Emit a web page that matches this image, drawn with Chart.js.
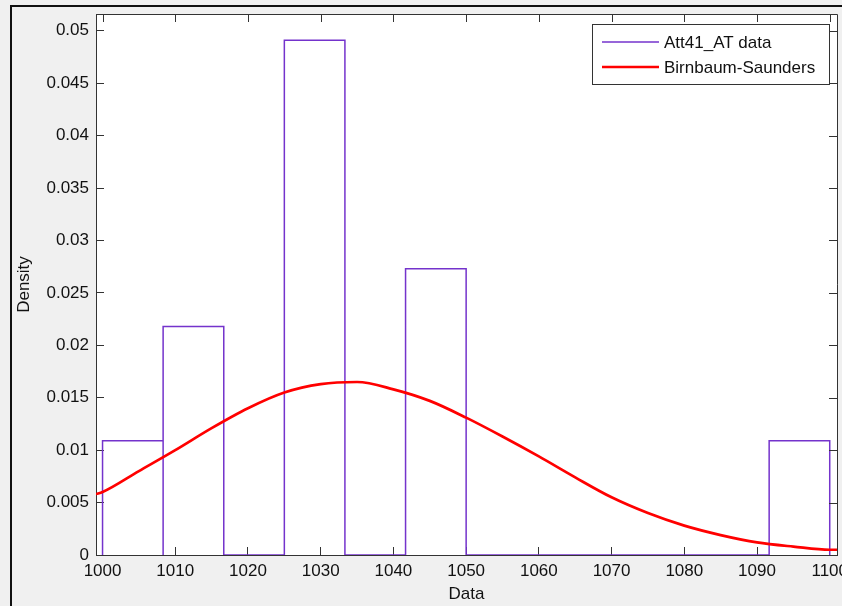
<!DOCTYPE html>
<html>
<head>
<meta charset="utf-8">
<title>Att41_AT histogram</title>
<script src="https://cdn.jsdelivr.net/npm/chart.js@4.4.1/dist/chart.umd.min.js"></script>
<style>
  html, body { margin: 0; padding: 0; background: #f0f0f0; }
  #wrap { position: relative; width: 842px; height: 606px; }
</style>
</head>
<body>
<div id="wrap"><canvas id="histChart" width="842" height="606"></canvas></div>
<script>
// histogram bins (density)
const binEdges = [1000, 1008.33, 1016.67, 1025, 1033.33, 1041.67, 1050,
  1058.33, 1066.67, 1075, 1083.33, 1091.67, 1100];
const binDensity = [0.0109, 0.0218, 0, 0.0491, 0, 0.0273, 0, 0, 0, 0, 0, 0.0109];

// fitted Birnbaum-Saunders pdf
const fitX = [999.1, 1000, 1005, 1010, 1015, 1020, 1025, 1030, 1035, 1040, 1045,
  1050, 1055, 1060, 1065, 1070, 1075, 1080, 1085, 1090, 1095, 1100, 1101];
const fitDensity = [0.0058, 0.0060, 0.0080, 0.0100, 0.0121, 0.0140, 0.0155, 0.0163,
  0.0165, 0.0158, 0.0147, 0.0131, 0.0113, 0.0094, 0.0074, 0.0055, 0.0040, 0.0028,
  0.0019, 0.0012, 0.0008, 0.0005, 0.0005];

const xTicks = [1000, 1010, 1020, 1030, 1040, 1050, 1060, 1070, 1080, 1090, 1100];
const xTickLabels = ["1000", "1010", "1020", "1030", "1040", "1050", "1060", "1070", "1080", "1090", "1100"];
const yTicks = [0, 0.005, 0.01, 0.015, 0.02, 0.025, 0.03, 0.035, 0.04, 0.045, 0.05];
const yTickLabels = ["0", "0.005", "0.01", "0.015", "0.02", "0.025", "0.03", "0.035", "0.04", "0.045", "0.05"];

const axisColor = "#333333";
const textColor = "#111111";
const fontFamily = '"Liberation Sans", Arial, sans-serif';
const tickFont = { family: fontFamily, size: 17 };
const TICK_LEN = 8;

// outline of every bar, bottom edges included
const histOutline = [];
binDensity.forEach((h, i) => {
  histOutline.push(
    { x: binEdges[i], y: 0 },
    { x: binEdges[i], y: h },
    { x: binEdges[i + 1], y: h },
    { x: binEdges[i + 1], y: 0 }
  );
});

const fitPoints = fitX.map((x, i) => ({ x: x, y: fitDensity[i] }));

// MATLAB style frame: grey figure, white axes, mirrored ticks, boxed legend
const matlabFrame = {
  id: "matlabFrame",
  beforeDraw(chart) {
    const { ctx, chartArea: a } = chart;
    ctx.save();
    ctx.fillStyle = "#f0f0f0";
    ctx.fillRect(0, 0, chart.width, chart.height);
    ctx.fillStyle = "#111111";
    ctx.fillRect(10, 5, chart.width - 10, 2);
    ctx.fillRect(10, 5, 2, chart.height - 5);
    ctx.fillStyle = "#ffffff";
    ctx.fillRect(a.left, a.top, a.right - a.left, a.bottom - a.top);
    ctx.restore();
  },
  afterDatasetsDraw(chart) {
    const { ctx, chartArea: a, scales } = chart;
    ctx.save();
    ctx.strokeStyle = axisColor;
    ctx.lineWidth = 1;
    ctx.beginPath();
    ctx.moveTo(a.left, a.top + 0.5);
    ctx.lineTo(a.right + 0.5, a.top + 0.5);
    ctx.lineTo(a.right + 0.5, a.bottom);
    xTicks.forEach((v) => {
      const px = Math.round(scales.x.getPixelForValue(v)) + 0.5;
      ctx.moveTo(px, a.top);
      ctx.lineTo(px, a.top + TICK_LEN);
    });
    yTicks.forEach((v) => {
      const py = Math.round(scales.y.getPixelForValue(v)) + 0.5;
      ctx.moveTo(a.right, py);
      ctx.lineTo(a.right - TICK_LEN, py);
    });
    ctx.stroke();
    ctx.restore();
  },
  afterDraw(chart) {
    const { ctx, chartArea: a } = chart;
    const items = chart.data.datasets;
    ctx.save();
    ctx.font = "17px " + fontFamily;
    const textW = Math.max(...items.map((d) => ctx.measureText(d.label).width));
    const lineW = 57;
    const boxW = Math.round(10 + lineW + 5 + textW + 14);
    const boxH = 60;
    const x0 = Math.round(a.right - 8 - boxW);
    const y0 = Math.round(a.top + 10);
    ctx.fillStyle = "#ffffff";
    ctx.fillRect(x0, y0, boxW, boxH);
    ctx.strokeStyle = axisColor;
    ctx.lineWidth = 1;
    ctx.strokeRect(x0 + 0.5, y0 + 0.5, boxW, boxH);
    items.forEach((d, i) => {
      const rowY = y0 + 18 + i * 25;
      ctx.strokeStyle = d.borderColor;
      ctx.lineWidth = d.borderWidth;
      ctx.beginPath();
      ctx.moveTo(x0 + 10, rowY);
      ctx.lineTo(x0 + 10 + lineW, rowY);
      ctx.stroke();
      ctx.fillStyle = textColor;
      ctx.textBaseline = "middle";
      ctx.textAlign = "left";
      ctx.fillText(d.label, x0 + 10 + lineW + 5, rowY + 1.5);
    });
    ctx.restore();
  }
};

new Chart(document.getElementById("histChart"), {
  type: "line",
  data: {
    datasets: [
      {
        label: "Att41_AT data",
        data: histOutline,
        borderColor: "#7433cc",
        borderWidth: 1.5,
        borderJoinStyle: "miter",
        pointRadius: 0,
        tension: 0,
        fill: false,
        order: 1
      },
      {
        label: "Birnbaum-Saunders",
        data: fitPoints,
        borderColor: "#ff0000",
        borderWidth: 2.7,
        pointRadius: 0,
        cubicInterpolationMode: "monotone",
        fill: false,
        order: 0
      }
    ]
  },
  options: {
    responsive: false,
    animation: false,
    devicePixelRatio: 1,
    layout: { padding: { left: 0, top: 14, right: 5, bottom: 0 } },
    plugins: {
      legend: { display: false },
      tooltip: { enabled: false }
    },
    scales: {
      x: {
        type: "linear",
        min: 999.1,
        max: 1101,
        afterBuildTicks: (s) => { s.ticks = xTicks.map((v) => ({ value: v })); },
        afterFit: (s) => { s.height = 51; s.paddingLeft = 0; s.paddingRight = 0; },
        grid: { drawOnChartArea: false, drawTicks: true, tickLength: -TICK_LEN, color: axisColor },
        border: { display: true, color: axisColor, width: 1 },
        ticks: {
          padding: 14, color: textColor, font: tickFont, maxRotation: 0, autoSkip: false,
          callback: (v, i) => xTickLabels[i]
        },
        title: { display: true, text: "Data", color: textColor, font: tickFont, padding: { top: 0, bottom: 1 } }
      },
      y: {
        type: "linear",
        min: 0,
        max: 0.0516,
        afterBuildTicks: (s) => { s.ticks = yTicks.map((v) => ({ value: v })); },
        afterFit: (s) => { s.width = 96; s.paddingTop = 0; s.paddingBottom = 0; },
        grid: { drawOnChartArea: false, drawTicks: true, tickLength: -TICK_LEN, color: axisColor },
        border: { display: true, color: axisColor, width: 1 },
        ticks: {
          padding: 15, color: textColor, font: tickFont, autoSkip: false,
          callback: (v, i) => yTickLabels[i]
        },
        title: { display: true, text: "Density", color: textColor, font: tickFont, padding: { top: 14, bottom: 0 } }
      }
    }
  },
  plugins: [matlabFrame]
});
</script>
</body>
</html>
